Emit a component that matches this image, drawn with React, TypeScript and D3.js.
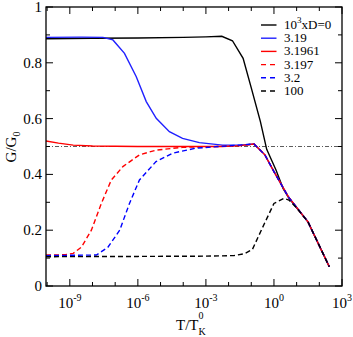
import React from "react";
import * as d3 from "d3";

// log10(T/T0K) and G/G0 for each series
const d0X = [-10.05, -8, -6, -4, -3, -2.3, -1.83, -1.36, -1.0, -0.6, -0.32, 0.09, 0.4, 0.66, 1.0, 1.5, 2.44];
const d0Y = [0.886, 0.888, 0.889, 0.891, 0.893, 0.895, 0.879, 0.816, 0.71, 0.59, 0.49, 0.416, 0.35, 0.315, 0.28, 0.23, 0.069];

const d319X = [-10.05, -8.5, -7.54, -7.1, -6.59, -6.07, -5.63, -5.19, -4.61, -4.03, -3.29, -2.27, -1.5, -0.88, -0.4, 0.0, 0.63, 1.5, 2.44];
const d319Y = [0.891, 0.892, 0.891, 0.882, 0.834, 0.75, 0.661, 0.601, 0.553, 0.529, 0.514, 0.505, 0.505, 0.509, 0.47, 0.41, 0.32, 0.23, 0.069];

const d31961X = [-10.05, -9.5, -8.85, -8, -6, -4, -2.27, -1.5, -0.88, -0.4, 0.0, 0.63, 1.5, 2.44];
const d31961Y = [0.52, 0.512, 0.505, 0.502, 0.5, 0.5, 0.5, 0.503, 0.509, 0.47, 0.41, 0.32, 0.23, 0.069];

const d3197X = [-10.05, -9.2, -8.85, -8.49, -8.05, -7.61, -7.17, -6.66, -5.93, -5.2, -4.03, -2.5, -1.5, -0.88, -0.4, 0.0, 0.63, 1.5, 2.44];
const d3197Y = [0.111, 0.112, 0.117, 0.139, 0.2, 0.296, 0.38, 0.428, 0.47, 0.487, 0.497, 0.5, 0.503, 0.509, 0.47, 0.41, 0.32, 0.23, 0.069];

const d32X = [-10.05, -9, -7.83, -7.32, -6.8, -6.37, -5.93, -5.2, -4.47, -3.44, -1.54, -0.88, -0.4, 0.0, 0.63, 1.5, 2.44];
const d32Y = [0.109, 0.11, 0.111, 0.139, 0.2, 0.296, 0.38, 0.446, 0.476, 0.494, 0.505, 0.509, 0.47, 0.41, 0.32, 0.23, 0.069];

const d100X = [-10.05, -6, -3, -1.76, -1.3, -0.95, -0.5, 0.0, 0.44, 0.66, 1.0, 1.5, 2.44];
const d100Y = [0.105, 0.106, 0.107, 0.109, 0.116, 0.131, 0.21, 0.296, 0.314, 0.308, 0.28, 0.23, 0.069];

const legendLabels = ["0", "3.19", "3.1961", "3.197", "3.2", "100"];
const seriesColors = ["#000000", "#2020ff", "#ff0000", "#ff0000", "#0000ff", "#000000"];
const seriesDashed = [false, false, false, true, true, true];

const xMajorExp = [-9, -6, -3, 0, 3];
const xMinorExp = [-10, -8, -7, -5, -4, -2, -1, 1, 2];
const yMajor = [0, 0.2, 0.4, 0.6, 0.8, 1];
const yMinor = [0.1, 0.3, 0.5, 0.7, 0.9];
const yTickLabels = ["0", "0.2", "0.4", "0.6", "0.8", "1"];

export default function App() {
  const W = 353, H = 337;
  const L = 46, R = 342, T = 7, B = 286;
  const x = d3.scaleLinear().domain([-10.05, 3]).range([L, R]);
  const y = d3.scaleLinear().domain([0, 1]).range([B, T]);
  const line = d3.line<[number, number]>().x((d) => x(d[0])).y((d) => y(d[1]));
  const xs = [d0X, d319X, d31961X, d3197X, d32X, d100X];
  const ys = [d0Y, d319Y, d31961Y, d3197Y, d32Y, d100Y];
  const fs = { fontFamily: "'Times New Roman', 'Liberation Serif', Times, 'DejaVu Serif', serif" };
  const maj = 7, mn = 4;
  return (
    <svg width={W} height={H} style={{ position: "absolute", left: 0, top: 0, background: "#fff" }}>
      <rect x={0} y={0} width={W} height={H} fill="#fff" />
      <defs>
        <clipPath id="plot"><rect x={L} y={T} width={R - L} height={B - T} /></clipPath>
      </defs>
      <line x1={L} x2={R} y1={y(0.5)} y2={y(0.5)} stroke="#333" strokeWidth={0.8} strokeDasharray="4,2,1,2" />
      <g clipPath="url(#plot)">
        {xs.map((xa, i) => (
          <path key={i} d={line(xa.map((v, j) => [v, ys[i][j]] as [number, number])) || ""} fill="none"
            stroke={seriesColors[i]} strokeWidth={1.4} strokeDasharray={seriesDashed[i] ? "5,3" : undefined} />
        ))}
      </g>
      {xMajorExp.map((e) => (
        <g key={"xm" + e}>
          <line x1={x(e)} x2={x(e)} y1={B} y2={B - maj} stroke="#000" />
          <line x1={x(e)} x2={x(e)} y1={T} y2={T + maj} stroke="#000" />
          <text x={x(e)} y={308} fontSize={15} textAnchor="middle" style={fs}>
            <tspan>10</tspan><tspan fontSize={10} dy={-7}>{String(e)}</tspan>
          </text>
        </g>
      ))}
      {xMinorExp.map((e) => (
        <g key={"xn" + e}>
          <line x1={x(e)} x2={x(e)} y1={B} y2={B - mn} stroke="#000" />
          <line x1={x(e)} x2={x(e)} y1={T} y2={T + mn} stroke="#000" />
        </g>
      ))}
      {yMajor.map((v, i) => (
        <g key={"ym" + v}>
          <line x1={L} x2={L + maj} y1={y(v)} y2={y(v)} stroke="#000" />
          <line x1={R} x2={R - maj} y1={y(v)} y2={y(v)} stroke="#000" />
          <text x={42} y={y(v) + 5} fontSize={15} textAnchor="end" style={fs}>{yTickLabels[i]}</text>
        </g>
      ))}
      {yMinor.map((v) => (
        <g key={"yn" + v}>
          <line x1={L} x2={L + mn} y1={y(v)} y2={y(v)} stroke="#000" />
          <line x1={R} x2={R - mn} y1={y(v)} y2={y(v)} stroke="#000" />
        </g>
      ))}
      <rect x={L} y={T} width={R - L} height={B - T} fill="none" stroke="#000" strokeWidth={1.3} />
      <text x={176} y={330} fontSize={15} style={fs}>
        <tspan>T/T</tspan><tspan fontSize={10} dy={-11}>0</tspan><tspan fontSize={10} dy={16} dx={-5}>K</tspan>
      </text>
      <text transform={`translate(16,${147}) rotate(-90)`} fontSize={15} textAnchor="middle" style={fs}>
        <tspan>G/G</tspan><tspan fontSize={10} dy={4}>0</tspan>
      </text>
      {legendLabels.map((lab, i) => {
        const yy = 29 + i * 13.2;
        return (
          <g key={"lg" + i}>
            <line x1={261} x2={276.5} y1={yy - 4} y2={yy - 4} stroke={seriesColors[i]} strokeWidth={1.4}
              strokeDasharray={seriesDashed[i] ? "5,4" : undefined} />
            <text x={284} y={yy} fontSize={13} style={fs}>
              {i === 0 ? (
                <>
                  <tspan>10</tspan><tspan fontSize={9} dy={-6}>3</tspan><tspan dy={6}>xD=0</tspan>
                </>
              ) : lab}
            </text>
          </g>
        );
      })}
    </svg>
  );
}
